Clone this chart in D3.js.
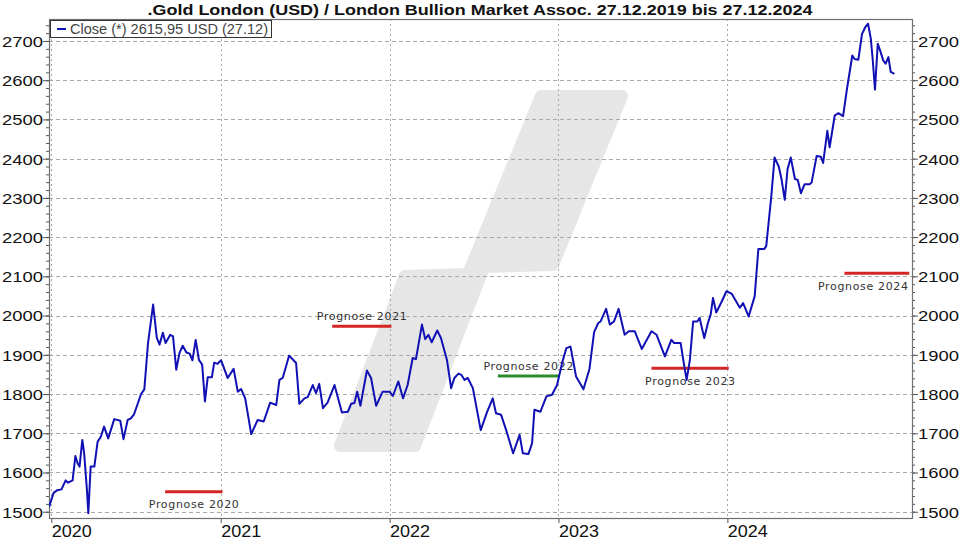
<!DOCTYPE html>
<html><head><meta charset="utf-8">
<script src="https://cdn.jsdelivr.net/npm/d3@7"></script>
<style>html,body{margin:0;padding:0;background:#fff;} svg{display:block;}</style>
</head><body>
<svg id="chart" width="960" height="540"></svg>
<script>
// ---------------- DATA ----------------
const titleText = ".Gold London (USD) / London Bullion Market Assoc. 27.12.2019 bis 27.12.2024";
const legendText = "Close (*) 2615,95 USD (27.12)";

const closeDates = [
"2019-12-27","2020-01-06","2020-01-14","2020-01-23","2020-02-01","2020-02-06","2020-02-16","2020-02-22","2020-02-27","2020-03-02",
"2020-03-08","2020-03-12","2020-03-18","2020-03-21","2020-03-26","2020-04-03","2020-04-10","2020-04-17","2020-04-24","2020-05-03",
"2020-05-16","2020-05-29","2020-06-05","2020-06-14","2020-06-21","2020-06-28","2020-07-13","2020-07-20","2020-07-28","2020-08-08",
"2020-08-16","2020-08-22","2020-08-29","2020-09-04","2020-09-14","2020-09-20","2020-09-27","2020-10-04","2020-10-11","2020-10-19",
"2020-10-26","2020-11-01","2020-11-08","2020-11-15","2020-11-22","2020-11-28","2020-12-04","2020-12-13","2020-12-18","2020-12-25",
"2021-01-02","2021-01-16","2021-01-29","2021-02-07","2021-02-14","2021-02-23","2021-03-08","2021-03-22","2021-04-04","2021-04-18",
"2021-05-01","2021-05-08","2021-05-15","2021-05-29","2021-06-13","2021-06-20","2021-07-01","2021-07-08","2021-07-19","2021-07-26",
"2021-08-02","2021-08-10","2021-08-20","2021-09-04","2021-09-20","2021-10-03","2021-10-10","2021-10-17","2021-10-23","2021-10-30",
"2021-11-13","2021-11-22","2021-12-03","2021-12-17","2022-01-01","2022-01-08","2022-01-20","2022-01-30","2022-02-09","2022-02-20",
"2022-02-27","2022-03-12","2022-03-19","2022-03-26","2022-04-02","2022-04-14","2022-04-22","2022-05-05","2022-05-14","2022-05-21",
"2022-05-30","2022-06-05","2022-06-12","2022-06-19","2022-06-30","2022-07-17","2022-07-31","2022-08-12","2022-08-19","2022-08-30",
"2022-09-10","2022-09-25","2022-10-09","2022-10-16","2022-10-28","2022-11-05","2022-11-10","2022-11-23","2022-12-06","2022-12-18",
"2022-12-29","2023-01-09","2023-01-18","2023-01-27","2023-02-08","2023-02-24","2023-03-09","2023-03-19","2023-03-28","2023-04-02",
"2023-04-14","2023-04-22","2023-05-01","2023-05-11","2023-05-24","2023-06-02","2023-06-15","2023-06-30","2023-07-21","2023-08-01",
"2023-08-19","2023-09-02","2023-09-08","2023-09-22","2023-09-30","2023-10-05","2023-10-12","2023-10-19","2023-10-28","2023-11-02",
"2023-11-12","2023-11-20","2023-11-26","2023-12-01","2023-12-08","2023-12-19","2023-12-30","2024-01-10","2024-01-28","2024-02-04",
"2024-02-16","2024-02-29","2024-03-08","2024-03-21","2024-03-25","2024-04-05","2024-04-12","2024-04-21","2024-04-27","2024-05-04",
"2024-05-10","2024-05-17","2024-05-26","2024-06-01","2024-06-08","2024-06-16","2024-06-27","2024-07-01","2024-07-12","2024-07-21",
"2024-07-26","2024-08-04","2024-08-09","2024-08-20","2024-08-28","2024-09-07","2024-09-16","2024-09-27","2024-10-02","2024-10-10",
"2024-10-18","2024-10-25","2024-10-31","2024-11-06","2024-11-10","2024-11-15","2024-11-21","2024-11-26","2024-12-03","2024-12-08",
"2024-12-14","2024-12-19","2024-12-27"
];
const closeValues = [
1512,1548,1555,1557,1580,1574,1580,1642,1623,1615,
1683,1649,1555,1496,1615,1615,1678,1691,1717,1687,
1736,1732,1685,1734,1738,1749,1800,1812,1930,2028,
1943,1926,1956,1930,1951,1947,1862,1905,1923,1906,
1903,1886,1938,1887,1875,1781,1843,1843,1880,1877,
1886,1841,1864,1806,1813,1789,1698,1734,1730,1778,
1772,1836,1841,1898,1879,1775,1789,1792,1823,1802,
1826,1764,1778,1823,1753,1755,1775,1777,1806,1770,
1860,1841,1770,1806,1806,1795,1832,1789,1823,1892,
1889,1977,1940,1951,1932,1962,1943,1887,1815,1841,
1852,1849,1836,1841,1815,1708,1755,1789,1751,1747,
1708,1649,1696,1649,1647,1675,1760,1755,1794,1798,
1823,1880,1917,1921,1845,1812,1864,1958,1981,1985,
2017,1977,1985,2017,1951,1960,1960,1915,1960,1951,
1896,1938,1930,1930,1870,1836,1887,1985,1985,1994,
1943,1981,2003,2045,2008,2034,2062,2056,2020,2032,
1998,2049,2170,2170,2177,2305,2403,2380,2348,2295,
2373,2403,2348,2346,2312,2335,2335,2339,2407,2405,
2389,2471,2429,2510,2516,2508,2582,2663,2654,2652,
2718,2735,2744,2706,2654,2576,2693,2676,2650,2642,
2659,2621,2616
];

const yTickValues = [1500,1600,1700,1800,1900,2000,2100,2200,2300,2400,2500,2600,2700];
const xTickLabels = ["2020","2021","2022","2023","2024"];

const prognoseLabels = ["Prognose 2020","Prognose 2021","Prognose 2022","Prognose 2023","Prognose 2024"];
const prognoseValues = [1551, 1973, 1846, 1866, 2108];
const prognoseStart  = ["2020-09-03","2021-08-30","2022-08-23","2023-07-21","2024-09-10"];
const prognoseEnd    = ["2021-01-05","2022-01-05","2023-01-02","2024-01-04","2025-01-28"];

// ---------------- LAYOUT / STYLE ----------------
const prognoseColors = ["#d42424","#d42424","#2e8b2e","#d42424","#d42424"];
const labelAbove = [false, true, true, false, false];

const plot = {left:49, right:912, top:19, bottom:518};
const parse = d3.timeParse("%Y-%m-%d");
const data = closeDates.map((d,i)=>({date:parse(d), value:closeValues[i]}));

const x = d3.scaleTime()
  .domain([parse("2019-12-27"), parse("2025-02-03")])
  .range([plot.left, plot.right]);
const y = d3.scaleLinear().domain([1484, 2756]).range([plot.bottom, plot.top]);

const svg = d3.select("#chart");
const FONT = "'Liberation Sans', Arial, sans-serif";

// watermark (decorative)
svg.append("path")
  .attr("d","M340,446 L405,276 L468,274 L541,96 L622,96 L553,265 L484,267 L415,446 Z")
  .attr("fill","#e6e6e6").attr("stroke","#e6e6e6")
  .attr("stroke-width",12).attr("stroke-linejoin","round");

// grid
const gGrid = svg.append("g");
gGrid.selectAll("line.h").data(yTickValues).join("line")
  .attr("x1",plot.left).attr("x2",plot.right)
  .attr("y1",d=>Math.round(y(d))+0.5).attr("y2",d=>Math.round(y(d))+0.5)
  .attr("stroke","#a8a8a8").attr("stroke-width",1).attr("stroke-dasharray","4,3");
const years = xTickLabels.map(t=>parse(t+"-01-01"));
gGrid.selectAll("line.v").data(years).join("line")
  .attr("x1",d=>Math.round(x(d))+0.5).attr("x2",d=>Math.round(x(d))+0.5)
  .attr("y1",plot.top).attr("y2",plot.bottom)
  .attr("stroke","#a8a8a8").attr("stroke-width",1).attr("stroke-dasharray","2,3");

// title
svg.append("text").attr("x",480).attr("y",15).attr("text-anchor","middle")
  .attr("font-family",FONT).attr("font-weight","bold").attr("font-size",15)
  .attr("textLength",665).attr("lengthAdjust","spacingAndGlyphs")
  .attr("fill","#111").text(titleText);

// axes
const minorTicks = d3.range(1500, 2741, 20);
const axL = d3.axisLeft(y).tickValues(yTickValues).tickSize(6).tickFormat(d=>d);
const axLm = d3.axisLeft(y).tickValues(minorTicks).tickSize(3).tickFormat("");
const axR = d3.axisRight(y).tickValues(yTickValues).tickSize(6).tickFormat(d=>d);
const axRm = d3.axisRight(y).tickValues(minorTicks).tickSize(3).tickFormat("");
const axB = d3.axisBottom(x).tickValues(years).tickSize(5).tickFormat(d3.timeFormat("%Y"));

function styleAxis(g){
  g.select(".domain").remove();
  g.selectAll(".tick line").attr("stroke","#555");
  g.selectAll("text").attr("font-family",FONT).attr("font-size",15).attr("fill","#111");
}
svg.append("g").attr("transform",`translate(${plot.left},0)`).call(axLm).call(styleAxis);
svg.append("g").attr("transform",`translate(${plot.left},0)`).call(axL).call(styleAxis)
  .selectAll("text").attr("x",-6).attr("dy","0.36em").attr("textLength",41).attr("lengthAdjust","spacingAndGlyphs");
svg.append("g").attr("transform",`translate(${plot.right},0)`).call(axRm).call(styleAxis);
svg.append("g").attr("transform",`translate(${plot.right},0)`).call(axR).call(styleAxis)
  .selectAll("text").attr("x",6).attr("dy","0.36em").attr("textLength",41).attr("lengthAdjust","spacingAndGlyphs");
const gB = svg.append("g").attr("transform",`translate(0,${plot.bottom})`).call(axB).call(styleAxis);
gB.selectAll("text").attr("text-anchor","start").attr("x",0).attr("y",19).attr("dy",0)
  .attr("font-size",16).attr("textLength",40).attr("lengthAdjust","spacingAndGlyphs");

// frame
svg.append("rect").attr("x",plot.left+0.5).attr("y",plot.top+0.5)
  .attr("width",plot.right-plot.left).attr("height",plot.bottom-plot.top)
  .attr("fill","none").attr("stroke","#707070").attr("stroke-width",1.2);

// clip
svg.append("clipPath").attr("id","clip").append("rect")
  .attr("x",plot.left).attr("y",plot.top).attr("width",plot.right-plot.left).attr("height",plot.bottom-plot.top);

// prognose lines & labels
const gP = svg.append("g").attr("clip-path","url(#clip)");
prognoseLabels.forEach((lab,i)=>{
  const x1 = x(parse(prognoseStart[i])), x2 = x(parse(prognoseEnd[i])), yy = y(prognoseValues[i]);
  gP.append("line").attr("x1",x1).attr("x2",x2).attr("y1",yy).attr("y2",yy)
    .attr("stroke",prognoseColors[i]).attr("stroke-width",3);
  const t = svg.append("text").attr("font-family","'DejaVu Sans', Verdana, sans-serif")
    .attr("font-size",11).attr("fill","#333").attr("text-anchor","middle")
    .attr("textLength",90).attr("lengthAdjust","spacing")
    .attr("x",(x1+x2)/2).attr("y", labelAbove[i] ? yy-6 : yy+16.5).text(lab);
  const bb = t.node().getBBox();
  if (bb.x + bb.width > plot.right - 4) {
    t.attr("text-anchor","end").attr("x", Math.min(x2, plot.right-4));
  }
});

// price line
svg.append("path").datum(data).attr("clip-path","url(#clip)")
  .attr("d", d3.line().x(d=>x(d.date)).y(d=>y(d.value)))
  .attr("fill","none").attr("stroke","#1010b4").attr("stroke-width",2)
  .attr("stroke-linejoin","round");

// legend
const lg = svg.append("g");
lg.append("rect").attr("x",50.5).attr("y",20.5).attr("width",221).attr("height",17)
  .attr("fill","#fff").attr("stroke","#333").attr("stroke-width",1);
lg.append("line").attr("x1",57).attr("x2",66).attr("y1",29).attr("y2",29)
  .attr("stroke","#1010b4").attr("stroke-width",2);
lg.append("text").attr("x",70).attr("y",34).attr("font-family",FONT).attr("font-size",14)
  .attr("fill","#444").attr("textLength",198).attr("lengthAdjust","spacingAndGlyphs").text(legendText);
</script>
</body></html>
